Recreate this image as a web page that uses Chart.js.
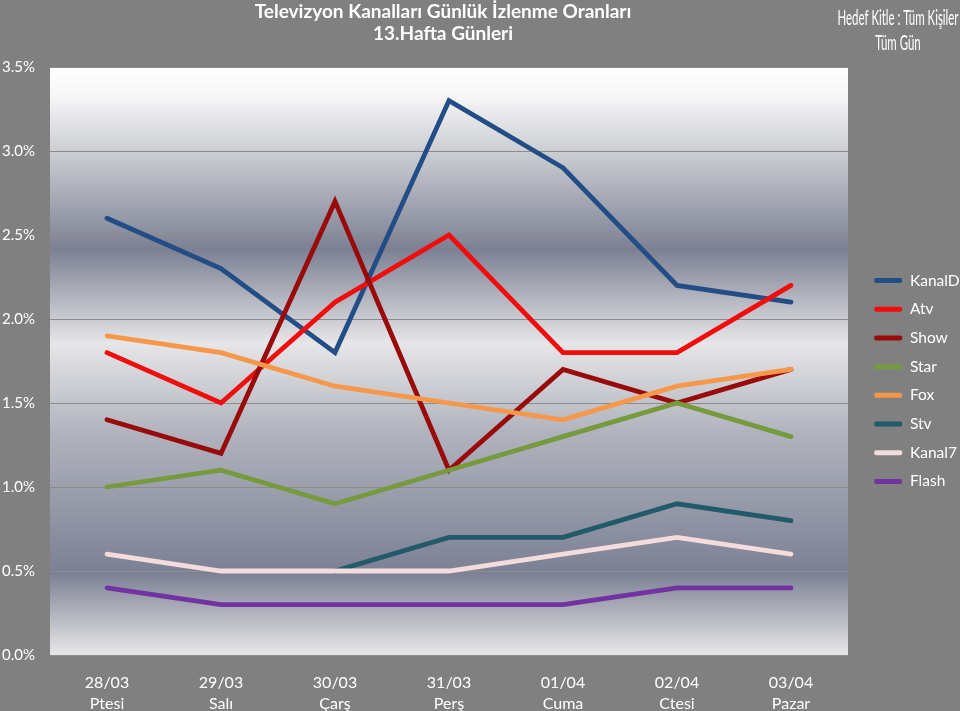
<!DOCTYPE html>
<html lang="tr">
  <head>
    <meta charset="UTF-8" />
    <title>Televizyon Kanalları Günlük İzlenme Oranları</title>
    <style>
      body { margin: 0; background: #808080; }
      #wrap { width: 960px; height: 711px; }
    </style>
  </head>
  <body>
    <div id="wrap">
      <canvas id="line-chart" width="960" height="711"></canvas>
    </div>
    <script src="https://cdn.jsdelivr.net/npm/chart.js@4/dist/chart.umd.min.js"></script>
    <script>
      // veriler (%)
      var tarihler = ['28/03', '29/03', '30/03', '31/03', '01/04', '02/04', '03/04'];
      var gunAdlari = ['Ptesi', 'Salı', 'Çarş', 'Perş', 'Cuma', 'Ctesi', 'Pazar'];
      var kanallar = ['KanalD', 'Atv', 'Show', 'Star', 'Fox', 'Stv', 'Kanal7', 'Flash'];

      var kanalD = [2.6, 2.3, 1.8, 3.3, 2.9, 2.2, 2.1];
      var atv = [1.8, 1.5, 2.1, 2.5, 1.8, 1.8, 2.2];
      var show = [1.4, 1.2, 2.7, 1.1, 1.7, 1.5, 1.7];
      var star = [1.0, 1.1, 0.9, 1.1, 1.3, 1.5, 1.3];
      var fox = [1.9, 1.8, 1.6, 1.5, 1.4, 1.6, 1.7];
      var stv = [null, null, 0.5, 0.7, 0.7, 0.9, 0.8];
      var kanal7 = [0.6, 0.5, 0.5, 0.5, 0.6, 0.7, 0.6];
      var flash = [0.4, 0.3, 0.3, 0.3, 0.3, 0.4, 0.4];

      var yTikler = [0, 0.5, 1, 1.5, 2, 2.5, 3, 3.5];

      var renkler = ['#234d85', '#f20c0c', '#990a0a', '#779a3e', '#f7974a', '#215a69', '#f2dcdc', '#7232a2'];
      var seriler = [kanalD, atv, show, star, fox, stv, kanal7, flash];

      var etiketler = tarihler.map(function (t, i) {
        return [t, gunAdlari[i]];
      });

      var datasetler = kanallar.map(function (ad, i) {
        return {
          label: ad,
          data: seriler[i],
          borderColor: renkler[i],
          backgroundColor: renkler[i],
          borderWidth: 4.8,
          borderCapStyle: 'round',
          pointRadius: 0,
          tension: 0,
          order: kanallar.length - i,
        };
      });

      // dar yazi: yatayda sikistirilmis metin
      function darYazi(ctx, metin, x, y, olcek) {
        ctx.save();
        ctx.translate(x, y);
        ctx.scale(olcek, 1);
        ctx.fillText(metin, 0, 0);
        ctx.restore();
      }

      // arka plan, grafik alani gradyani ve basliklar
      var arkaPlan = {
        id: 'arkaPlan',
        beforeLayout: function (chart) {
          var lg = chart.legend;
          if (lg && !lg._sabit) {
            var eskiFit = lg.fit.bind(lg);
            lg.fit = function () {
              eskiFit();
              this.width = 112;
            };
            lg._sabit = true;
          }
        },
        afterLayout: function (chart) {
          var lg = chart.legend;
          lg.left += 13;
          lg.right += 13;
          lg.top -= 8;
          lg.bottom -= 8;
        },
        beforeDraw: function (chart) {
          var ctx = chart.ctx;
          var a = chart.chartArea;
          ctx.save();
          ctx.fillStyle = '#808080';
          ctx.fillRect(0, 0, chart.width, chart.height);
          var g = ctx.createLinearGradient(0, a.top, 0, a.bottom);
          g.addColorStop(0, '#ffffff');
          g.addColorStop(0.05, '#f6f6f7');
          g.addColorStop(0.15, '#c9cbd1');
          g.addColorStop(0.31, '#7c8093');
          g.addColorStop(0.47, '#e6e6e8');
          g.addColorStop(0.62, '#b1b4be');
          g.addColorStop(0.86, '#7c8094');
          g.addColorStop(1, '#e8e8e8');
          ctx.fillStyle = g;
          ctx.fillRect(a.left, a.top, a.right - a.left, a.bottom - a.top);
          ctx.restore();
        },
        afterDraw: function (chart) {
          var ctx = chart.ctx;
          var a = chart.chartArea;
          var orta = (a.left + a.right) / 2 - 6;
          ctx.save();
          ctx.fillStyle = '#ffffff';
          ctx.textAlign = 'center';
          ctx.textBaseline = 'middle';
          ctx.font = 'bold 19px Lato';
          ctx.fillText('Televizyon Kanalları Günlük İzlenme Oranları', orta, 12);
          ctx.fillText('13.Hafta Günleri', orta, 34);
          ctx.font = '21px Lato';
          var ust = 'Hedef Kitle : Tüm Kişiler';
          var olcek = 121 / ctx.measureText(ust).width;
          darYazi(ctx, ust, 898, 18, olcek);
          darYazi(ctx, 'Tüm Gün', 898, 43, olcek);
          ctx.restore();
        },
      };

      new Chart(document.getElementById('line-chart'), {
        type: 'line',
        data: {
          labels: etiketler,
          datasets: datasetler,
        },
        plugins: [arkaPlan],
        options: {
          responsive: false,
          animation: false,
          layout: { padding: { top: 67, left: 0, right: 0, bottom: 0 } },
          plugins: {
            title: { display: false },
            tooltip: { enabled: false },
            legend: {
              position: 'right',
              labels: {
                color: '#ffffff',
                font: { family: 'Lato', size: 15.5 },
                boxWidth: 28,
                boxHeight: 5,
                padding: 13.2,
                generateLabels: function (chart) {
                  var liste = Chart.defaults.plugins.legend.labels.generateLabels(chart);
                  liste.sort(function (x, y) {
                    return x.datasetIndex - y.datasetIndex;
                  });
                  return liste.map(function (it) {
                    it.lineWidth = 0;
                    it.borderRadius = 2;
                    return it;
                  });
                },
              },
            },
          },
          scales: {
            x: {
              offset: true,
              grid: { display: false, drawTicks: false },
              border: { display: false },
              ticks: {
                color: '#ffffff',
                font: { family: 'Lato', size: 16, lineHeight: 1.32 },
                padding: 17,
                maxRotation: 0,
                autoSkip: false,
              },
              afterFit: function (scale) {
                scale.height = 56;
              },
            },
            y: {
              min: 0,
              max: 3.5,
              afterBuildTicks: function (scale) {
                scale.ticks = yTikler.map(function (v) {
                  return { value: v };
                });
              },
              grid: { color: '#8c8c8c', lineWidth: 1, drawTicks: false },
              border: { display: false },
              ticks: {
                color: '#ffffff',
                font: { family: 'Lato', size: 15 },
                padding: 15,
                callback: function (v) {
                  return v.toFixed(1) + '%';
                },
              },
              afterFit: function (scale) {
                scale.width = 50;
              },
            },
          },
        },
      });
    </script>
  </body>
</html>
